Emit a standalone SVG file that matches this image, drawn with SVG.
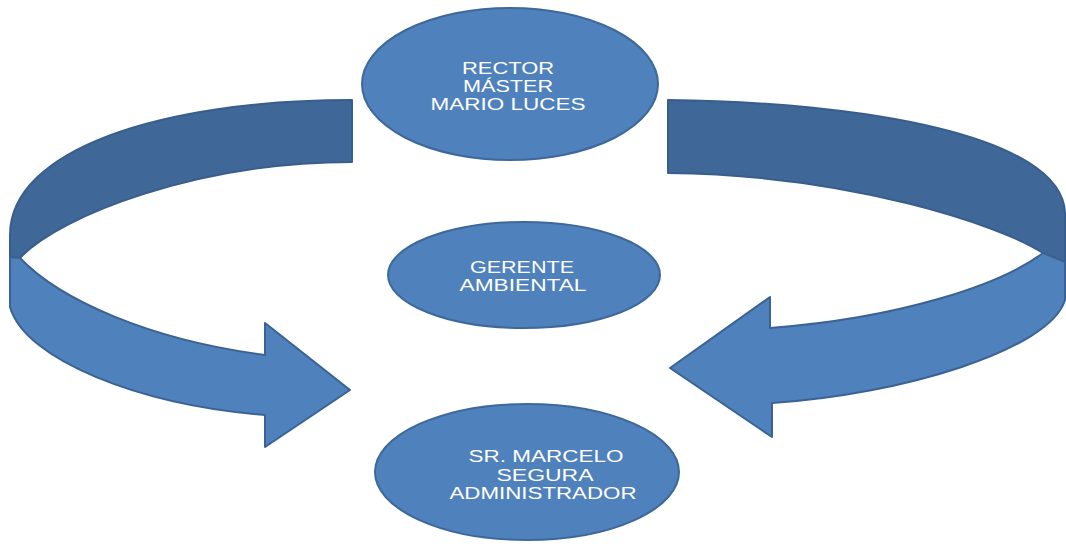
<svg xmlns="http://www.w3.org/2000/svg" width="1066" height="547" viewBox="0 0 1066 547">
<style>
.back{fill:#3F6797;stroke:#385E8C;stroke-width:2;stroke-linejoin:round}
.front{fill:#4F81BD;stroke:#3A6393;stroke-width:2;stroke-linejoin:round}
.node{fill:#4F81BD;stroke:#3D6899;stroke-width:2}
.lbl{font-family:"Liberation Sans",Arial,sans-serif;font-size:17px;fill:#FFFFFF;text-anchor:middle}
</style>
<rect width="1066" height="547" fill="#FFFFFF"/>
<g id="connectors">
  <g id="arrow-left">
    <path class="back" d="M352,100 C160,100 10,150 10,235 L10,257 L20,258 C60,215 200,162 352,162 Z"/>
    <path class="front" d="M20,258 C60,300 150,340 265,355 L265,323 L350,390 L265,447 L265,415 C140,405 25,360 10,307 L10,257 Z"/>
  </g>
  <g id="arrow-right">
    <path class="back" d="M668,100 C860,102 1062,135 1065,213 L1065,262 L1043,253 C1000,225 850,175 668,173 Z"/>
    <path class="front" d="M1043,253 C1000,285 900,318 770,328 L770,297 L670,368 L772,437 L772,403 C900,395 1050,350 1065,300 L1065,262 Z"/>
  </g>
</g>
<g id="node-rector">
  <ellipse class="node" cx="510" cy="84" rx="148" ry="76"/>
  <text class="lbl" x="508" y="74" textLength="92" lengthAdjust="spacingAndGlyphs">RECTOR</text>
  <text class="lbl" x="508" y="92" textLength="90" lengthAdjust="spacingAndGlyphs">MÁSTER</text>
  <text class="lbl" x="508" y="110" textLength="155" lengthAdjust="spacingAndGlyphs">MARIO LUCES</text>
</g>
<g id="node-gerente">
  <ellipse class="node" cx="524" cy="275" rx="136" ry="53"/>
  <text class="lbl" x="522" y="273" textLength="104" lengthAdjust="spacingAndGlyphs">GERENTE</text>
  <text class="lbl" x="523" y="291" textLength="127" lengthAdjust="spacingAndGlyphs">AMBIENTAL</text>
</g>
<g id="node-admin">
  <ellipse class="node" cx="527" cy="472" rx="152" ry="68"/>
  <text class="lbl" x="546" y="462" textLength="155" lengthAdjust="spacingAndGlyphs">SR. MARCELO</text>
  <text class="lbl" x="545" y="481" textLength="97" lengthAdjust="spacingAndGlyphs">SEGURA</text>
  <text class="lbl" x="543" y="499" textLength="187" lengthAdjust="spacingAndGlyphs">ADMINISTRADOR</text>
</g>
</svg>
